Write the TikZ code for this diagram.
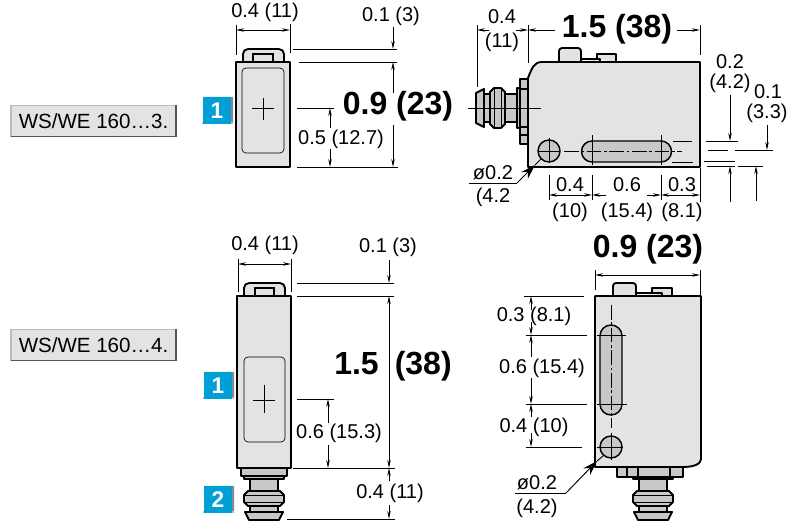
\documentclass[tikz,border=0pt]{standalone}
\usepackage{fontspec}
\setmainfont{Liberation Sans}
\usepackage{xcolor}
\usetikzlibrary{arrows.meta}
\definecolor{bodygrey}{HTML}{E3E3E3}
\definecolor{partgrey}{HTML}{C8C8C8}
\definecolor{badgeblue}{HTML}{009FD6}
\definecolor{bevellight}{HTML}{BBBBBB}
\definecolor{beveldark}{HTML}{555555}
\tikzset{
  outline/.style={draw=black, fill=bodygrey, line width=1.4pt, line join=round},
  part/.style={draw=black, fill=partgrey, line width=1.4pt, line join=round},
  thin part/.style={draw=black, line width=0.7pt},
  dimline/.style={draw=black, line width=0.7pt},
  dimarrow/.style={dimline, -{Stealth[length=6pt,width=2.6pt]}},
  dimboth/.style={dimline, {Stealth[length=6pt,width=2.6pt]}-{Stealth[length=6pt,width=2.6pt]}},
  centreline/.style={draw=black, line width=0.5pt},
  centredash/.style={centreline, dash pattern=on 11pt off 2pt on 2pt off 2pt},
  leader/.style={dimline, -{Stealth[length=11pt,width=7pt]}},
  lab/.style={font=\fontsize{15}{15}\selectfont, inner sep=0pt},
  biglab/.style={font=\fontsize{24}{24}\selectfont\bfseries, inner sep=0pt},
  typebox/.style={fill=bodygrey, minimum width=123pt, minimum height=23pt, inner sep=0pt,
    font=\fontsize{15.4}{15.4}\selectfont},
  badge/.style={fill=badgeblue, text=white, minimum width=21pt, minimum height=20pt, inner sep=0pt,
    font=\fontsize{17}{17}\selectfont\bfseries}
}
% plug seen from above: local x across the axis, local y away from the housing
\newcommand{\plug}{
  \draw[part] (-20,8) rectangle (20,11);
  \draw[part] (-14,11) rectangle (14,23);
  \draw[part] (-14,38) rectangle (14,44);
  \draw[part] (-16,23) -- (16,23) -- (20,27) -- (20,34) -- (16,38) -- (-16,38) -- (-20,34) -- (-20,27) -- cycle;
  \draw[part] (-19,44) -- (19,44) -- (15,52) -- (-15,52) -- cycle;
  \draw[thin part] (-20,27) -- (20,27) (-20,34) -- (20,34);
}
% bevelled blue number
\newcommand{\numbadge}[4]{
  \fill[beveldark!70] (#2-14,#3-13) -- (#2+16,#3-13) -- (#2+16,#3+14) -- (#2+14,#3+12) -- (#2+14,#3-11) -- (#2-14,#3-11) -- cycle;
  \fill[bevellight] (#2-15,#3+14) rectangle (#2+16,#3+12);
  \node[badge] (#1) at (#2,#3+0.5) {#4};
}
% bevelled type box
\newcommand{\typelabel}[4]{
  \node[typebox] (#1) at (#2,#3) {#4};
  \draw[bevellight, line width=1.2pt] (#1.south west) -- (#1.north west) -- (#1.north east);
  \draw[beveldark, line width=1.2pt] (#1.north east) -- (#1.south east) -- (#1.south west);
}
\begin{document}
\begin{tikzpicture}[x=0.75pt,y=-0.75pt]
  \useasboundingbox (0,0) rectangle (789,523);

  % ---- WS/WE 160...3. front view
  \typelabel{typeA}{93.5}{121}{WS/WE 160…3.}
  \numbadge{numA}{217}{110}{1}
  \draw[outline] (243,62) -- (243,54) arc[start angle=180,end angle=270,radius=5] -- (279,49) arc[start angle=270,end angle=360,radius=5] -- (284,62);
  \draw[thin part, line width=1pt] (253,62) -- (253,54) -- (273,54) -- (273,62);
  \draw[outline] (236,62) rectangle (290,167);
  \draw[thin part, rounded corners=3pt, line width=0.5pt] (242,68) rectangle (284,153);
  \draw[centreline] (252,108) -- (274,108) (263,98) -- (263,120);

  \draw[dimline] (236,25) -- (236,55) (290,24) -- (290,53);
  \draw[dimboth] (236,30) -- (290,30);
  \node[lab] (widthA) at (265,12) {0.4 (11)};
  \node[lab] (tabA) at (391,16) {0.1 (3)};
  \draw[dimline] (293,49) -- (397,49) (299,62) -- (397,62) (297,167) -- (398,167) (297,108) -- (334,108);
  \draw[dimarrow] (393,27) -- (393,49);
  \node[biglab] (heightA) at (398,106) {0.9 (23)};
  \draw[dimarrow] (393,93) -- (393,62);
  \draw[dimarrow] (393,125) -- (393,167);
  \node[lab] (axisA) at (341,139) {0.5 (12.7)};
  \draw[dimarrow] (330,128) -- (330,108);
  \draw[dimarrow] (330,149) -- (330,167);

  % ---- WS/WE 160...3. side view
  \begin{scope}[shift={(528,108)},x={(0,-0.75pt)},y={(-0.75pt,0)}]
    \plug
  \end{scope}
  \draw[part] (520,79) rectangle (528,144);
  \draw[thin part, line width=1.2pt] (520,89) -- (528,89) (520,127) -- (528,127) (520,135) -- (528,135);
  \draw[outline] (559,62) -- (559,51) arc[start angle=180,end angle=270,radius=3] -- (578,48) arc[start angle=270,end angle=360,radius=3] -- (581,62);
  \draw[outline] (581,59) -- (600,59) -- (600,62) (597,59) -- (597,54) -- (616,54) -- (616,62);
  \draw[outline] (528,167) -- (528,78) .. controls (532,68) and (534,62) .. (542,62) -- (700,62) -- (700,167) -- cycle;
  \draw[part, line width=1.1pt] (549,151) circle[radius=11];
  \draw[part, line width=1.1pt] (592,141) -- (661,141) arc[start angle=-90,end angle=90,radius=10.5] -- (592,162) arc[start angle=90,end angle=270,radius=10.5] -- cycle;
  \draw[centreline] (468,108) -- (541,108);
  \draw[centreline] (538,151) -- (560,151) (549,138) -- (549,163) (592,135) -- (592,165) (661,135) -- (661,165);
  \draw[centredash] (564,151) -- (682,151);
  \draw[dimline] (673,141) -- (692,141) (672,162) -- (693,162) (706,141) -- (738,141);
  \draw[dimline] (708,150) -- (728,150) (735,150) -- (773,150) (704,161) -- (735,161) (707,166) -- (735,166) (738,166) -- (763,166);
  \draw[dimline] (535,165) -- (541,159);
  \draw[leader] (517,183) -- (535,165);
  \draw[dimline] (469,183) -- (517,183);
  \node[lab] (holeA) at (493,173) {ø0.2};
  \node[lab] (holeAmm) at (493,197) {(4.2};

  \draw[dimline] (477,25) -- (477,87) (528,25) -- (528,63) (700,25) -- (700,55);
  \draw[dimarrow] (489,30) -- (477,30);
  \draw[dimarrow] (516,30) -- (528,30);
  \draw[dimarrow] (555,30) -- (528,30);
  \draw[dimarrow] (677,30) -- (700,30);
  \node[lab] (plugA) at (502,17) {0.4};
  \node[lab] (plugAmm) at (502,42) {(11)};
  \node[biglab] (lengthA) at (617,29) {1.5 (38)};
  \node[lab] (slotA) at (730,62) {0.2};
  \node[lab] (slotAmm) at (730,83) {(4.2)};
  \node[lab] (holeB) at (768,92) {0.1};
  \node[lab] (holeBmm) at (767,113) {(3.3)};
  \draw[dimarrow] (730,95) -- (730,141);
  \draw[dimarrow] (730,202) -- (730,166);
  \draw[dimarrow] (767,125) -- (767,150);
  \draw[dimarrow] (756,201) -- (756,166);

  \draw[dimline] (549,175) -- (549,200) (592,175) -- (592,200) (661,175) -- (661,200) (700,168) -- (700,202);
  \draw[dimboth] (549,195) -- (592,195);
  \draw[dimarrow] (606,195) -- (592,195);
  \draw[dimarrow] (647,195) -- (661,195);
  \draw[dimboth] (661,195) -- (700,195);
  \foreach \dimname/\cx/\upper/\lower in {a/570/0.4/(10), b/627/0.6/(15.4), c/682/0.3/(8.1)}{
    \node[lab] (hole\dimname) at (\cx,185) {\upper};
    \node[lab] (hole\dimname mm) at (\cx,212) {\lower};
  }

  % ---- WS/WE 160...4. front view
  \typelabel{typeB}{93.5}{345}{WS/WE 160…4.}
  \numbadge{numB}{218}{385}{1}
  \numbadge{numC}{218}{499}{2}
  \begin{scope}[shift={(264,468)},x={(0.75pt,0)},y={(0,-0.75pt)}]
    \plug
    \draw[part] (-23,0) rectangle (23,8);
  \end{scope}
  \draw[outline] (244,296) -- (244,288) arc[start angle=180,end angle=270,radius=5] -- (280,283) arc[start angle=270,end angle=360,radius=5] -- (285,296);
  \draw[thin part, line width=1pt] (255,296) -- (255,288) -- (274,288) -- (274,296);
  \draw[outline] (237,296) rectangle (291,468);
  \draw[thin part, rounded corners=3pt, line width=0.5pt] (244,357) rectangle (285,442);
  \draw[centreline] (253,400) -- (275,400) (264,385) -- (264,413);

  \draw[dimline] (238,259) -- (238,292) (291,259) -- (291,292);
  \draw[dimboth] (238,264) -- (291,264);
  \node[lab] (widthB) at (265,245) {0.4 (11)};
  \node[lab] (tabB) at (388,247) {0.1 (3)};
  \draw[dimline] (297,283) -- (394,283) (297,296) -- (394,296) (293,468) -- (395,468) (287,519) -- (395,519) (297,399) -- (334,399);
  \draw[dimarrow] (389,260) -- (389,283);
  \draw[dimboth] (389,296) -- (389,468);
  \node[biglab] (lengthB) at (393,366) {1.5\hspace{12pt}(38)};
  \node[lab] (plugB) at (390,493) {0.4 (11)};
  \draw[dimarrow] (389,481) -- (389,468);
  \draw[dimarrow] (389,505) -- (389,519);
  \node[lab] (axisB) at (339,433) {0.6 (15.3)};
  \draw[dimarrow] (328,423) -- (328,399);
  \draw[dimarrow] (328,445) -- (328,468);

  % ---- WS/WE 160...4. side view
  \begin{scope}[shift={(653,468)},x={(0.75pt,0)},y={(0,-0.75pt)}]
    \plug
  \end{scope}
  \draw[part] (617,467) rectangle (683,477);
  \draw[thin part, line width=1.2pt] (627,467) -- (627,477) (638,467) -- (638,477) (670,467) -- (670,477);
  \draw[outline] (613,296) -- (613,286) arc[start angle=180,end angle=270,radius=3] -- (633,283) arc[start angle=270,end angle=360,radius=3] -- (636,296);
  \draw[outline] (636,293) -- (662,293) -- (662,296) (652,293) -- (652,288) -- (672,288) -- (672,296);
  \draw[outline] (595,467) -- (595,296) -- (701,296) -- (701,459) .. controls (701,464) and (694,467) .. (683,467) -- cycle;
  \draw[part, line width=1.1pt] (611,447) circle[radius=11];
  \draw[part, line width=1.1pt] (600,336) arc[start angle=180,end angle=360,radius=11] -- (622,404) arc[start angle=0,end angle=180,radius=11] -- cycle;
  \draw[centreline] (597,447) -- (623,447) (611,433) -- (611,460) (597,335) -- (626,335) (597,404) -- (627,404);
  \draw[centredash] (611,305) -- (611,428);
  \draw[dimline] (597,461) -- (603,456);
  \draw[leader] (566,493) -- (597,461);
  \draw[dimline] (515,493) -- (566,493);
  \node[lab] (holeC) at (537,483) {ø0.2};
  \node[lab] (holeCmm) at (537,508) {(4.2)};

  \draw[dimline] (595,270) -- (595,290) (700,270) -- (700,295);
  \draw[dimboth] (595,275) -- (700,275);
  \node[biglab] (widthC) at (648,249) {0.9 (23)};
  \draw[dimline] (524,296) -- (584,296) (526,335) -- (587,335) (526,404) -- (587,404) (526,447) -- (582,447);
  \node[lab] (offC) at (534,316) {0.3 (8.1)};
  \node[lab] (slotC) at (542,368) {0.6 (15.4)};
  \node[lab] (pitchC) at (534,427) {0.4 (10)};
  \draw[dimarrow] (531,310) -- (531,296);
  \draw[dimarrow] (531,322) -- (531,335);
  \draw[dimarrow] (531,357) -- (531,335);
  \draw[dimarrow] (531,378) -- (531,404);
  \draw[dimarrow] (531,417) -- (531,404);
  \draw[dimarrow] (531,433) -- (531,447);
\end{tikzpicture}
\end{document}
